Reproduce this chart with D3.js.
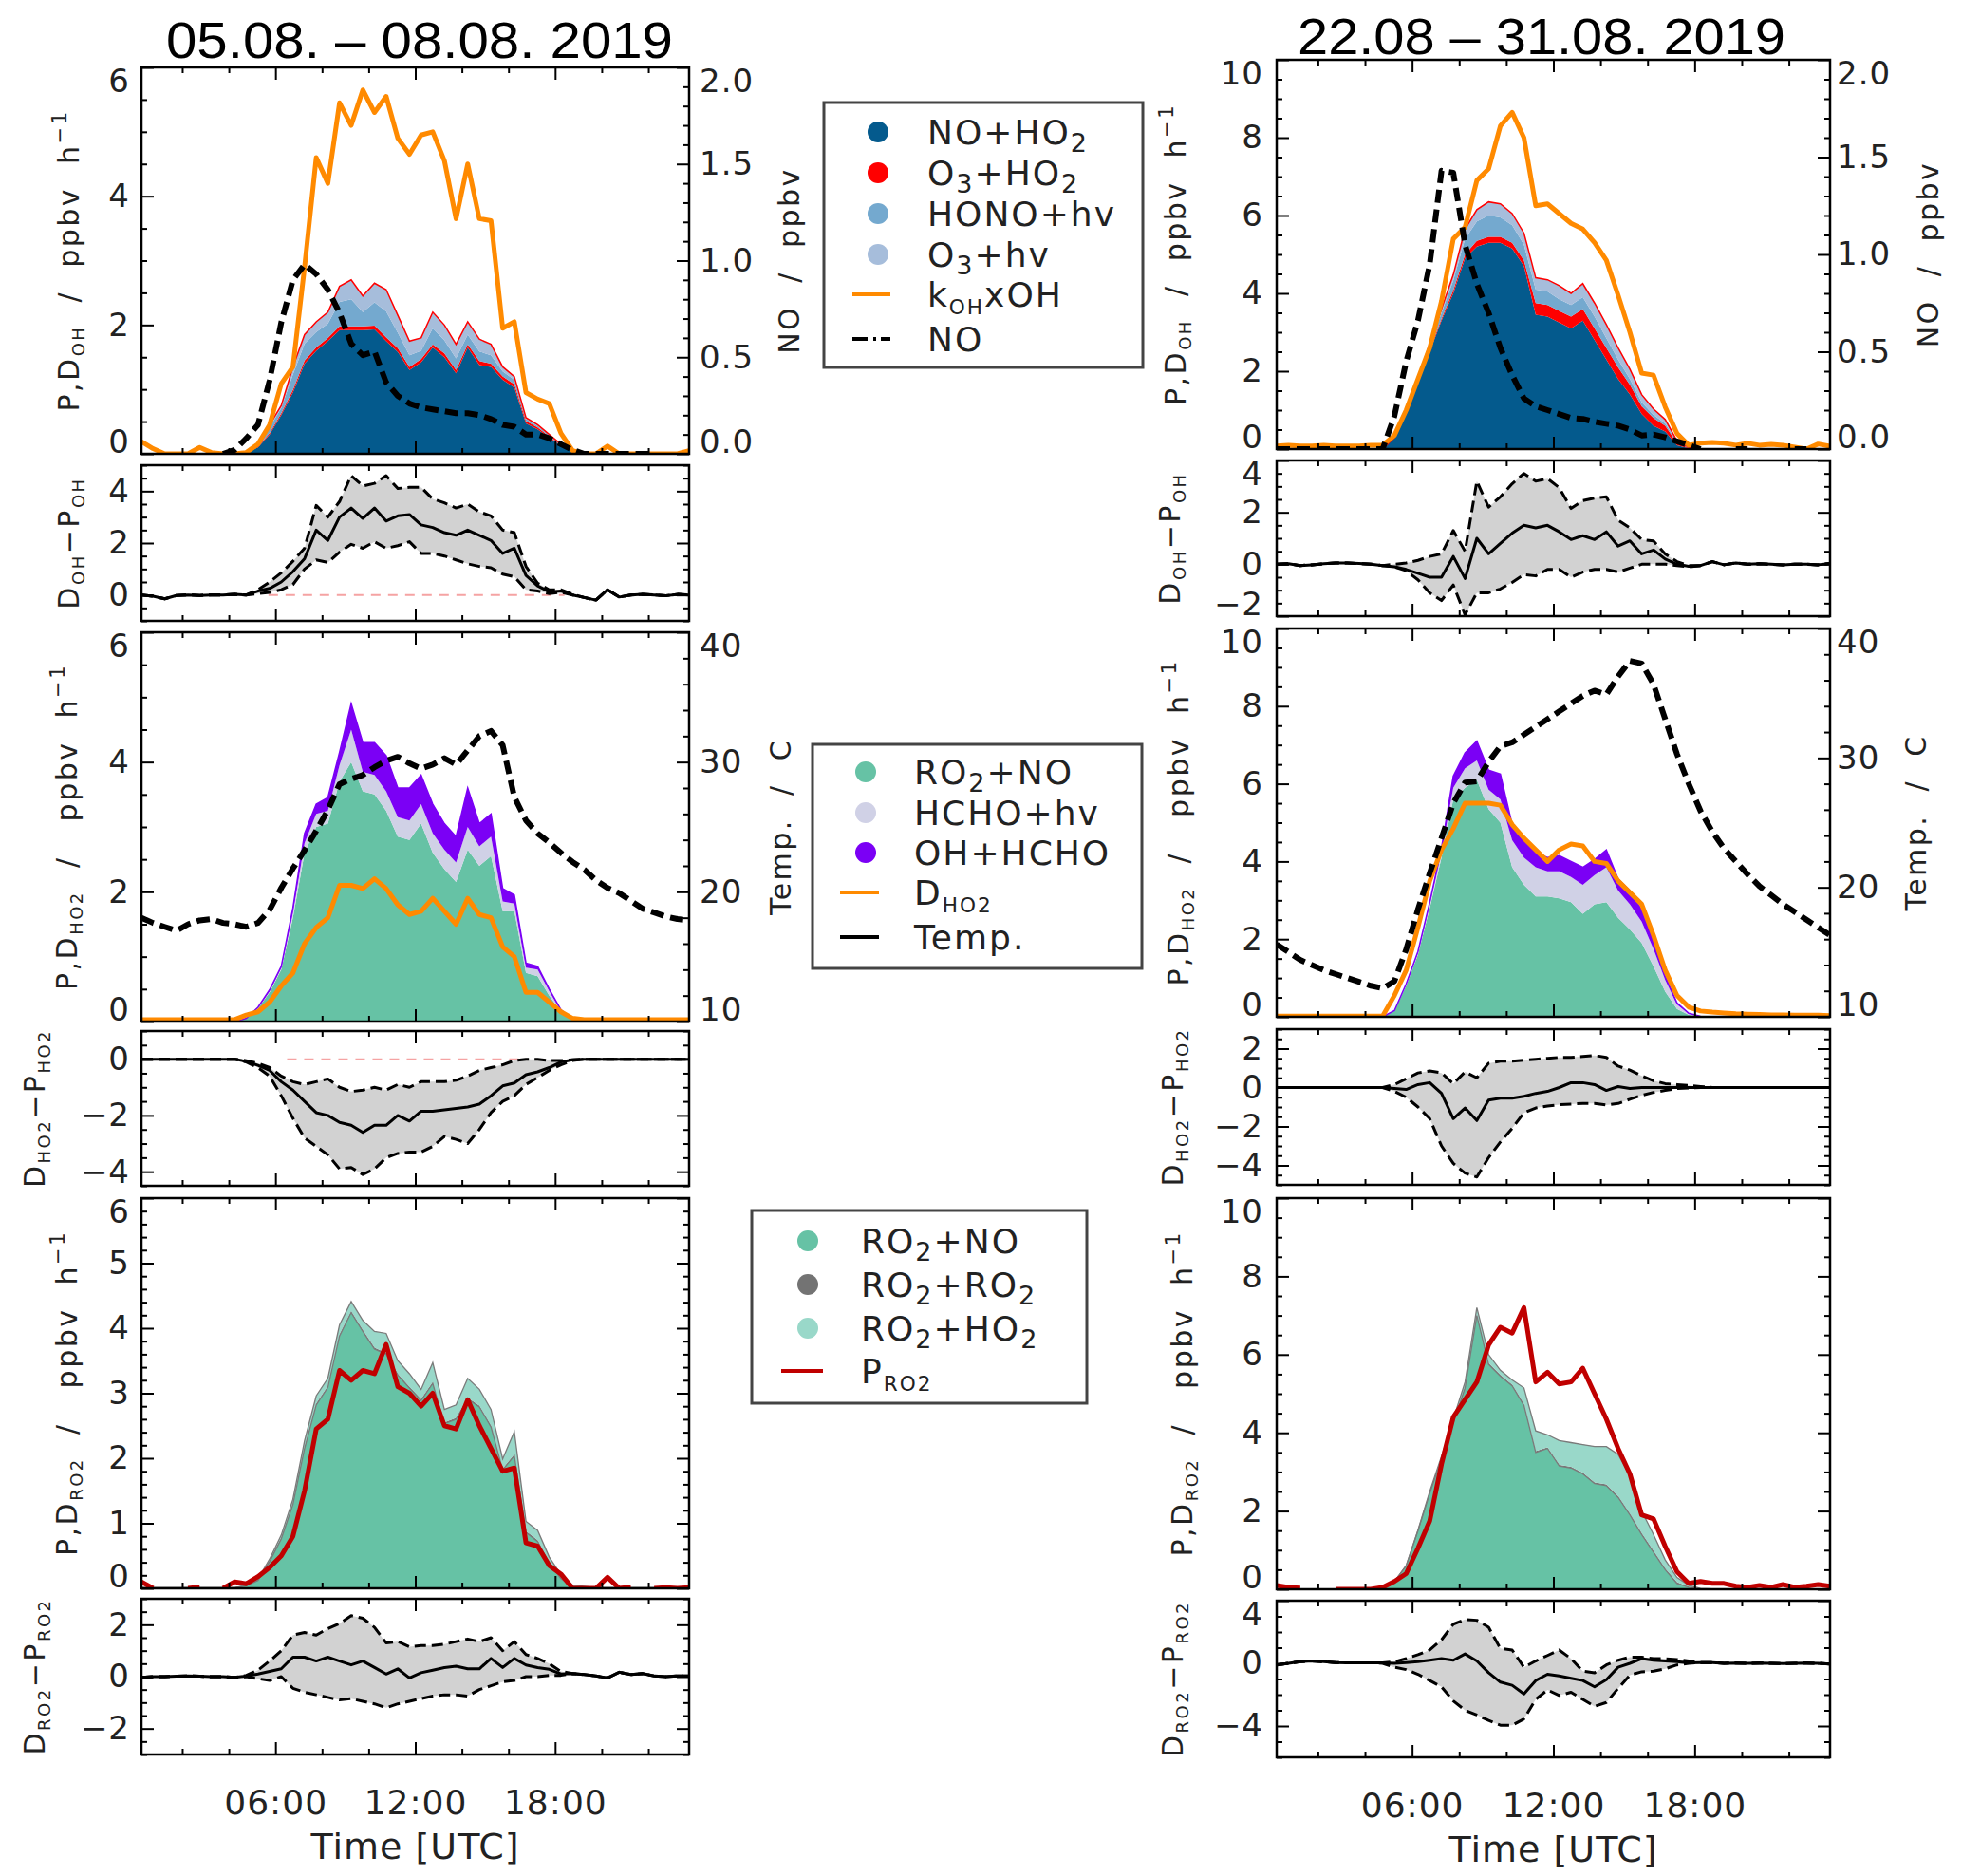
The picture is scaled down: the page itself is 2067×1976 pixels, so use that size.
<!DOCTYPE html>
<html>
<head>
<meta charset="utf-8">
<script src="https://cdn.jsdelivr.net/npm/d3@7"></script>
<style>
body { margin: 0; background: #fff; }
text { font-family: 'DejaVu Sans', sans-serif; fill: #222; }
</style>
</head>
<body>
<svg id="fig" width="2067" height="1976"></svg>
<script>
// half-hour bins, bin centres (UTC hours)
var hours = [0.25,0.75,1.25,1.75,2.25,2.75,3.25,3.75, 4.25,4.75,5.25,5.75,6.25,6.75,7.25,7.75,
  8.25,8.75,9.25,9.75,10.25,10.75,11.25,11.75, 12.25,12.75,13.25,13.75,14.25,14.75,15.25,15.75,
  16.25,16.75,17.25,17.75,18.25,18.75,19.25,19.75, 20.25,20.75,21.25,21.75,22.25,22.75,23.25,23.75];

var titles = ["05.08. \u2013 08.08. 2019", "22.08 \u2013 31.08. 2019"];
var xTickLabels = ["06:00", "12:00", "18:00"];

/****** 05.08. - 08.08. : OH budget ******/
var L_noHO2 = [0,0,0,0,0,0,0,0, 0,0.02,0.10,0.30,0.60,0.95,1.40,1.60, 1.75,1.92,1.92,1.92,1.93,1.75,1.58,1.30, 1.42,1.65,1.50,1.25,1.65,1.38,1.35,1.15, 1.03,0.47,0.38,0.25,0.12,0.04,0.01,0, 0,0,0,0,0,0,0,0];
var L_o3HO2 = [0,0,0,0,0,0,0,0, 0,0,0.01,0.02,0.03,0.04,0.05,0.05, 0.05,0.06,0.06,0.06,0.06,0.06,0.06,0.05, 0.05,0.05,0.06,0.05,0.05,0.06,0.05,0.05, 0.05,0.04,0.03,0.02,0.01,0,0,0, 0,0,0,0,0,0,0,0];
var L_hono = [0,0,0,0,0,0,0,0, 0,0.01,0.01,0.09,0.08,0.24,0.26,0.24, 0.22,0.38,0.42,0.22,0.36,0.40,0.24,0.18, 0.13,0.25,0.20,0.18,0.15,0.15,0.13,0.08, 0.07,0.03,0.02,0.02,0.01,0.01,0,0, 0,0,0,0,0,0,0,0];
var L_o3hv = [0,0,0,0,0,0,0,0, 0,0,0,0.04,0.04,0.12,0.14,0.16, 0.18,0.24,0.30,0.25,0.30,0.34,0.27,0.22, 0.20,0.25,0.24,0.22,0.20,0.19,0.17,0.07, 0.05,0.02,0.02,0.01,0.01,0,0,0, 0,0,0,0,0,0,0,0];
var L_kOH = [0.19,0.08,0,0,0,0.1,0.02,0, 0,0.02,0.15,0.45,1.09,1.35,2.9,4.6, 4.2,5.45,5.1,5.65,5.3,5.55,4.9,4.65, 4.95,5.0,4.55,3.65,4.5,3.65,3.62,1.95, 2.05,0.95,0.85,0.78,0.32,0.05,0,0, 0.12,0,0,0,0,0,0,0.05];
var L_NO = [null,null,null,null,null,null,null,0, 0.02,0.08,0.15,0.38,0.68,0.90,0.98,0.93, 0.85,0.73,0.57,0.51,0.53,0.37,0.30,0.26, 0.24,0.23,0.22,0.21,0.21,0.20,0.18,0.15, 0.14,0.10,0.10,0.08,0.05,0.02,0,0, 0,0,0,0,0,null,null,null];
var L_dOH = [0,-0.05,-0.15,-0.02,0,-0.02,0,0, 0.02,0,0.15,0.25,0.5,0.9,1.4,2.5, 2.1,3.0,3.35,2.95,3.35,2.85,3.05,3.1, 2.7,2.6,2.4,2.3,2.5,2.3,2.1,1.6, 1.8,0.75,0.35,0.12,0.15,0,-0.1,-0.2, 0.2,-0.08,0,0.02,0,-0.03,0.02,0];
var L_dOHhi = [0,-0.05,-0.15,-0.02,0,-0.02,0,0, 0.02,0,0.2,0.5,0.85,1.3,1.8,3.45, 3.0,3.6,4.6,4.2,4.3,4.6,4.1,4.15, 4.15,3.7,3.55,3.35,3.5,3.2,3.05,2.5, 2.4,1.1,0.45,0.2,0.2,0.03,-0.1,-0.2, 0.2,-0.08,0,0.02,0,-0.03,0.02,0];
var L_dOHlo = [0,-0.05,-0.15,-0.02,0,-0.02,0,0, 0.02,0,0.05,0.1,0.2,0.4,1.0,1.35, 1.25,1.65,1.95,1.8,2.05,1.8,1.9,2.05, 1.6,1.6,1.5,1.35,1.2,1.1,1.05,0.8, 0.7,0.2,0.15,0.05,0.1,0,-0.1,-0.2, 0.2,-0.08,0,0.02,0,-0.03,0.02,0];

/****** 05.08. - 08.08. : HO2 budget ******/
var L_hRO2NO = [0,0,0,0,0,0,0,0, 0,0.05,0.2,0.45,0.8,1.6,2.6,3.0, 3.05,3.7,4.0,3.55,3.5,3.25,2.85,2.8, 3.05,2.6,2.35,2.15,2.65,2.4,2.55,1.7, 1.7,0.75,0.7,0.4,0.15,0.03,0,0, 0,0,0,0,0,0,0,0];
var L_hHCHOhv = [0,0,0,0,0,0,0,0, 0,0,0.01,0.02,0.03,0.08,0.15,0.2, 0.2,0.25,0.5,0.3,0.3,0.3,0.3,0.3, 0.3,0.3,0.3,0.3,0.35,0.3,0.3,0.15, 0.12,0.08,0.1,0.07,0.02,0.01,0,0, 0,0,0,0,0,0,0,0];
var L_hOHHCHO = [0,0,0,0,0,0,0,0, 0,0,0.01,0.02,0.02,0.07,0.15,0.15, 0.2,0.2,0.4,0.45,0.5,0.55,0.45,0.5, 0.45,0.45,0.4,0.4,0.6,0.35,0.35,0.2, 0.13,0.07,0.05,0.03,0.01,0,0,0, 0,0,0,0,0,0,0,0];
var L_DHO2 = [0.03,0.03,0.03,0.03,0.03,0.03,0.03,0.03, 0.03,0.1,0.15,0.3,0.55,0.75,1.2,1.45, 1.6,2.1,2.1,2.05,2.2,2.05,1.8,1.65, 1.7,1.9,1.7,1.5,1.9,1.65,1.6,1.15, 1.0,0.45,0.45,0.3,0.15,0.05,0.03,0.03, 0.03,0.03,0.03,0.03,0.03,0.03,0.03,0.03];
var L_temp = [18.0,17.6,17.3,17.0,17.5,17.8,17.9,17.6, 17.5,17.3,17.6,18.6,20.3,21.8,23.2,24.7, 26.3,28.3,28.7,29.0,29.6,30.1,30.4,29.9, 29.5,29.8,30.3,29.8,30.9,32.0,32.4,31.3, 27.3,25.5,24.5,23.8,23.0,22.3,21.7,20.9, 20.3,19.9,19.3,18.7,18.4,18.1,17.9,17.8];
var L_dHO2 = [0,0,0,0,0,0,0,0, 0,-0.08,-0.22,-0.4,-0.8,-1.1,-1.5,-1.9, -2.0,-2.25,-2.35,-2.6,-2.35,-2.35,-2.0,-2.2, -1.85,-1.85,-1.8,-1.75,-1.7,-1.6,-1.3,-0.95, -0.85,-0.55,-0.45,-0.3,-0.1,-0.02,0,0, 0,0,0,0,0,0,0,0];
var L_dHO2hi = [0,0,0,0,0,0,0,0, 0,-0.05,-0.15,-0.3,-0.6,-0.8,-0.9,-0.8, -0.7,-1.0,-1.15,-1.1,-1.0,-1.1,-0.9,-1.0, -0.8,-0.8,-0.8,-0.75,-0.6,-0.4,-0.3,-0.2, -0.05,0,0,-0.05,-0.05,-0.02,0,0, 0,0,0,0,0,0,0,0];
var L_dHO2lo = [0,0,0,0,0,0,0,0, 0,-0.1,-0.3,-0.6,-1.3,-2.1,-2.8,-3.1, -3.4,-3.9,-3.85,-4.1,-3.9,-3.5,-3.35,-3.3, -3.3,-3.1,-2.75,-2.85,-3.0,-2.5,-1.9,-1.5, -1.3,-0.9,-0.65,-0.4,-0.2,-0.05,0,0, 0,0,0,0,0,0,0,0];

/****** 05.08. - 08.08. : RO2 budget ******/
var L_rRO2NO = [0.01,0.01,0.01,0.01,0.01,0.01,0.01,0.01, 0.01,0.04,0.12,0.41,0.76,1.29,2.15,2.82, 3.09,3.88,4.24,3.95,3.68,3.6,3.28,3.08, 2.89,3.15,2.53,2.6,2.91,2.79,2.48,1.82, 2.04,0.86,0.72,0.39,0.15,0.02,0.02,0.01, 0.01,0.01,0.01,0.01,0.01,0.01,0.01,0.01];
var L_rRO2RO2 = [0,0,0,0,0,0,0,0, 0,0.01,0.01,0.02,0.02,0.02,0.02,0.02, 0.02,0.02,0.02,0.02,0.02,0.02,0.02,0.02, 0.02,0.02,0.02,0.02,0.02,0.02,0.02,0.02, 0.02,0.02,0.02,0.01,0.01,0.01,0.01,0, 0,0,0,0,0,0,0,0];
var L_rRO2HO2 = [0,0,0,0,0,0,0,0, 0,0,0.01,0.02,0.04,0.06,0.1,0.12, 0.12,0.15,0.15,0.15,0.25,0.3,0.2,0.2, 0.15,0.3,0.2,0.2,0.3,0.25,0.25,0.15, 0.35,0.15,0.15,0.08,0.05,0.02,0,0, 0,0,0,0,0,0,0,0];
var L_PRO2 = [0.1,0,null,null,0,0.02,null,0, 0.1,0.07,0.18,0.32,0.5,0.8,1.5,2.45, 2.6,3.35,3.2,3.35,3.3,3.75,3.1,3.0, 2.8,3.0,2.5,2.45,2.9,2.5,2.15,1.8, 1.85,0.7,0.65,0.35,0.22,0,0,0, 0.17,0,0.02,null,0,0.01,0,0.01];
var L_dRO2 = [-0.03,0,0,0.02,0.03,0.02,0,0, -0.03,0.02,0.1,0.2,0.3,0.75,0.75,0.6, 0.75,0.6,0.45,0.6,0.35,0.1,0.3,-0.05, 0.15,0.25,0.35,0.4,0.3,0.3,0.7,0.35, 0.7,0.45,0.35,0.28,0.1,0.12,0.08,0.03, -0.05,0.17,0.08,0.12,0.03,0,0.03,0.03];
var L_dRO2hi = [-0.03,0,0,0.02,0.03,0.02,0,0, -0.03,0.05,0.25,0.6,1.0,1.6,1.7,1.6, 1.85,2.05,2.35,2.25,1.9,1.3,1.35,1.15, 1.2,1.2,1.25,1.35,1.45,1.35,1.5,1.0, 1.35,0.85,0.7,0.5,0.2,0.12,0.08,0.03, -0.05,0.17,0.08,0.12,0.03,0,0.03,0.03];
var L_dRO2lo = [-0.03,0,0,0.02,0.03,0.02,0,0, -0.03,0,-0.08,-0.15,0,-0.45,-0.6,-0.7, -0.8,-0.9,-0.85,-0.95,-1.05,-1.2,-1.05,-0.95, -0.85,-0.75,-0.7,-0.7,-0.75,-0.5,-0.35,-0.2, -0.15,0,0,0.05,0.05,0.12,0.08,0.03, -0.05,0.17,0.08,0.12,0.03,0,0.03,0.03];

/****** 22.08 - 31.08. : OH budget ******/
var R_noHO2 = [0,0,0,0,0,0,0,0, 0,0,0.3,0.9,1.7,2.5,3.3,4.0, 4.9,5.2,5.3,5.3,5.15,4.7,3.45,3.4, 3.25,3.1,3.3,2.8,2.3,1.8,1.4,0.9, 0.6,0.45,0.1,0.02,0,0,0,0, 0,0,0,0,0,0,0,0];
var R_o3HO2 = [0,0,0,0,0,0,0,0, 0,0,0,0.02,0.03,0.05,0.05,0.08, 0.1,0.15,0.15,0.15,0.15,0.15,0.3,0.3, 0.3,0.3,0.3,0.3,0.3,0.3,0.25,0.2, 0.2,0.15,0.05,0.01,0,0,0,0, 0,0,0,0,0,0,0,0];
var R_hono = [0,0,0,0,0,0,0,0, 0,0,0,0.05,0.05,0.1,0.15,0.25, 0.4,0.5,0.55,0.5,0.45,0.4,0.35,0.35, 0.3,0.3,0.3,0.3,0.25,0.2,0.15,0.1, 0.08,0.06,0.03,0.01,0,0,0,0, 0,0,0,0,0,0,0,0];
var R_o3hv = [0,0,0,0,0,0,0,0, 0,0,0,0.02,0.04,0.06,0.1,0.15, 0.25,0.3,0.35,0.35,0.3,0.3,0.3,0.3, 0.35,0.3,0.35,0.35,0.35,0.3,0.25,0.2, 0.15,0.1,0.03,0.01,0,0,0,0, 0,0,0,0,0,0,0,0];
var R_kOH = [0.08,0.1,0.08,0.08,0.1,0.08,0.08,0.08, 0.1,0.1,0.35,1.0,1.8,2.6,3.8,5.4, 5.7,6.9,7.2,8.3,8.65,8.0,6.25,6.3, 6.05,5.8,5.65,5.3,4.85,3.95,3.0,1.95, 1.9,1.08,0.4,0.1,0.15,0.17,0.15,0.1, 0.15,0.1,0.12,0.1,0.05,0,0.13,0.07];
var R_NO = [0,0,0,0,0,0,0,0, 0,0,0.17,0.45,0.66,0.95,1.43,1.42, 1.05,0.85,0.70,0.52,0.38,0.26,0.22,0.20, 0.18,0.16,0.155,0.14,0.13,0.12,0.10,0.07, 0.075,0.06,0.04,0.02,0,null,null,0, 0,null,null,null,0,0,null,null];
var R_dOH = [0,0.02,-0.05,-0.02,0.02,0.05,0.05,0.03, 0,-0.05,-0.1,-0.2,-0.35,-0.5,-0.5,0.3, -0.55,1.0,0.4,0.8,1.2,1.5,1.4,1.5, 1.25,0.95,1.1,0.95,1.25,0.7,0.9,0.4, 0.55,0.2,0,-0.08,-0.05,0.1,-0.02,0.05, 0,0.02,0,-0.02,0,0,-0.02,0.03];
var R_dOHhi = [0,0.02,-0.05,-0.02,0.02,0.05,0.05,0.03, 0,-0.05,0,0.05,0.15,0.3,0.4,1.3, 0.5,3.2,2.2,2.6,3.1,3.5,3.2,3.3, 2.95,2.15,2.45,2.55,2.6,1.7,1.4,0.95, 0.9,0.4,0.1,-0.05,-0.05,0.1,-0.02,0.05, 0,0.02,0,-0.02,0,0,-0.02,0.03];
var R_dOHlo = [0,0.02,-0.05,-0.02,0.02,0.05,0.05,0.03, 0,-0.05,-0.1,-0.25,-0.6,-1.1,-1.4,-0.8, -1.95,-1.1,-1.1,-0.95,-0.7,-0.4,-0.45,-0.2, -0.2,-0.5,-0.3,-0.2,-0.2,-0.3,-0.15,0, 0,0,-0.05,-0.1,-0.05,0.1,-0.02,0.05, 0,0.02,0,-0.02,0,0,-0.02,0.03];

/****** 22.08 - 31.08. : HO2 budget ******/
var R_hRO2NO = [0,0,0,0,0,0,0,0, 0,0,0.15,0.8,1.6,2.8,4.1,5.6, 5.9,6.1,5.35,5.0,3.85,3.4,3.1,3.1, 3.05,2.95,2.65,2.9,2.95,2.55,2.25,1.9, 1.3,0.65,0.2,0.05,0.01,0,0,0, 0,0,0,0,0,0,0,0];
var R_hHCHOhv = [0,0,0,0,0,0,0,0, 0,0,0.01,0.03,0.05,0.1,0.15,0.3, 0.5,0.5,0.5,0.6,0.7,0.7,0.75,0.65, 0.7,0.65,0.75,0.75,0.9,0.7,0.65,0.55, 0.45,0.3,0.12,0.03,0,0,0,0, 0,0,0,0,0,0,0,0];
var R_hOHHCHO = [0,0,0,0,0,0,0,0, 0,0,0,0.02,0.03,0.05,0.1,0.3, 0.4,0.5,0.5,0.65,0.4,0.45,0.4,0.35, 0.4,0.4,0.45,0.4,0.45,0.3,0.35,0.3, 0.2,0.1,0.04,0.01,0,0,0,0, 0,0,0,0,0,0,0,0];
var R_DHO2 = [0.02,0.02,0.02,0.02,0.02,0.02,0.02,0.02, 0.02,0.02,0.55,1.2,2.3,3.5,4.3,4.85, 5.5,5.5,5.5,5.45,4.95,4.6,4.3,4.0, 4.3,4.45,4.4,4.0,3.95,3.5,3.2,2.9, 2.1,1.2,0.55,0.25,0.15,0.12,0.1,0.08, 0.07,0.06,0.05,0.05,0.04,0.04,0.04,0.03];
var R_temp = [15.6,15.0,14.4,14.0,13.6,13.3,13.0,12.7, 12.4,12.2,12.75,15.2,18.3,21.1,23.8,26.5, 28.1,28.2,29.7,30.9,31.2,31.8,32.4,33.0, 33.6,34.2,34.8,35.2,34.9,36.3,37.5,37.3, 35.7,33.0,30.3,28.0,25.9,24.3,23.0,22.0, 21.0,20.1,19.4,18.7,18.1,17.5,16.9,16.3];
var R_dHO2 = [0,0,0,0,0,0,0,0, 0,0,-0.05,-0.1,0.15,0.25,-0.3,-1.6, -1.05,-1.7,-0.65,-0.55,-0.55,-0.45,-0.3,-0.2, 0,0.25,0.25,0.15,-0.15,0.05,-0.05,0, 0,0,0,0,0,0,0,0, 0,0,0,0,0,0,0,0];
var R_dHO2hi = [0,0,0,0,0,0,0,0, 0,0,0.15,0.45,0.75,0.85,0.75,0.2, 0.8,0.5,1.25,1.35,1.35,1.4,1.45,1.5, 1.55,1.55,1.6,1.65,1.55,1.1,0.9,0.6, 0.35,0.2,0.15,0.1,0.05,0,0,0, 0,0,0,0,0,0,0,0];
var R_dHO2lo = [0,0,0,0,0,0,0,0, 0,0,-0.2,-0.5,-1.0,-1.6,-3.0,-3.9, -4.4,-4.6,-3.6,-2.8,-2.1,-1.3,-1.05,-0.95, -0.88,-0.85,-0.82,-0.82,-0.9,-0.82,-0.6,-0.4, -0.25,-0.15,-0.05,-0.02,0,0,0,0, 0,0,0,0,0,0,0,0];

/****** 22.08 - 31.08. : RO2 budget ******/
var R_rRO2NO = [0.01,0.01,0.01,0.01,0.01,0.01,0.01,0.01, 0.01,0.02,0.2,0.6,1.5,2.45,3.35,4.25, 5.15,7.0,5.75,5.45,5.2,4.7,3.5,3.6, 3.15,3.1,2.95,2.7,2.65,2.35,1.9,1.4, 0.95,0.5,0.15,0.05,0.01,0.01,0.01,0.01, 0.01,0.01,0.01,0.01,0.01,0.01,0.01,0.01];
var R_rRO2RO2 = [0,0,0,0,0,0,0,0, 0,0,0,0.01,0.01,0.02,0.02,0.03, 0.03,0.03,0.03,0.03,0.03,0.03,0.03,0.03, 0.03,0.03,0.03,0.03,0.03,0.03,0.03,0.03, 0.03,0.03,0.03,0.01,0,0,0,0, 0,0,0,0,0,0,0,0];
var R_rRO2HO2 = [0,0,0,0,0,0,0,0, 0,0,0,0,0,0.03,0.03,0.07, 0.12,0.17,0.22,0.12,0.12,0.42,0.52,0.32, 0.62,0.62,0.72,0.92,0.97,1.07,0.97,0.57, 0.42,0.22,0.12,0.04,0.01,0,0,0, 0,0,0,0,0,0,0,0];
var R_PRO2 = [0.1,0.05,0.03,null,null,0,0,0, 0,0.05,0.2,0.4,1.05,1.75,3.2,4.4, 4.85,5.3,6.25,6.7,6.55,7.2,5.3,5.55, 5.25,5.3,5.65,5.0,4.35,3.6,2.95,1.9, 1.8,1.1,0.45,0.15,0.2,0.15,0.15,0.08, 0.05,0.1,0.05,0.12,0.05,0.08,0.12,0.08];
var R_dRO2 = [-0.1,0,0.1,0.15,0.1,0.05,0.03,0.03, 0.03,0.03,0,0.05,0.1,0.2,0.3,0.2, 0.6,0.15,-0.6,-1.2,-1.4,-1.95,-1.1,-0.7, -0.8,-0.95,-1.1,-1.5,-1.05,-0.25,0,0.3, 0.2,0.15,0.1,0.03,0.05,0.05,0,0.02, 0,0.02,0,-0.02,0,0.02,0,-0.05];
var R_dRO2hi = [-0.1,0,0.1,0.15,0.1,0.05,0.03,0.03, 0.03,0.03,0.1,0.3,0.55,0.85,1.5,2.5, 2.8,2.75,2.3,0.95,0.85,-0.25,0.15,0.5, 0.85,0.3,-0.5,-0.6,-0.1,0.2,0.4,0.4, 0.3,0.3,0.25,0.15,0.05,0.05,0,0.02, 0,0.02,0,-0.02,0,0.02,0,-0.05];
var R_dRO2lo = [-0.1,0,0.1,0.15,0.1,0.05,0.03,0.03, 0.03,0,-0.25,-0.4,-0.7,-1.1,-1.5,-2.4, -3.0,-3.3,-3.65,-3.95,-3.95,-3.55,-2.3,-1.7, -2.05,-1.85,-2.3,-2.75,-2.5,-1.6,-0.75,-0.54, -0.5,-0.35,-0.1,0,0.05,0.05,0,0.02, 0,0.02,0,-0.02,0,0.02,0,-0.05];

// legend entries: [text, style] parts ; style '' | 'sub' | 'ssub' | 'sup'
var legOH = [
  {dot: "#045a8d", parts: [["NO+HO",""],["2","sub"]]},
  {dot: "#ff0000", parts: [["O",""],["3","sub"],["+HO",""],["2","sub"]]},
  {dot: "#74a9cf", parts: [["HONO+hv",""]]},
  {dot: "#a6bddb", parts: [["O",""],["3","sub"],["+hv",""]]},
  {line: "#ff8a00", parts: [["k",""],["OH","ssub"],["xOH",""]]},
  {line: "#000", dash: "16,6,3,5", parts: [["NO",""]]}
];
var legHO2 = [
  {dot: "#66c2a5", parts: [["RO",""],["2","sub"],["+NO",""]]},
  {dot: "#d0d1e6", parts: [["HCHO+hv",""]]},
  {dot: "#7b00f5", parts: [["OH+HCHO",""]]},
  {line: "#ff8a00", parts: [["D",""],["HO2","ssub"]]},
  {line: "#000", parts: [["Temp.",""]]}
];
var legRO2 = [
  {dot: "#66c2a5", parts: [["RO",""],["2","sub"],["+NO",""]]},
  {dot: "#737373", parts: [["RO",""],["2","sub"],["+RO",""],["2","sub"]]},
  {dot: "#99d8c9", parts: [["RO",""],["2","sub"],["+HO",""],["2","sub"]]},
  {line: "#c00000", parts: [["P",""],["RO2","ssub"]]}
];

var svg = d3.select("#fig");
var clipN = 0;
var NB = "\u00a0";

function rich(t, parts, fs) {
  var shift = 0;
  parts.forEach(function(p) {
    var target = 0, size = fs;
    if (p[1] === "sub") { target = fs * 0.22; size = fs * 0.75; }
    if (p[1] === "ssub") { target = fs * 0.22; size = fs * 0.6; }
    if (p[1] === "sup") { target = -fs * 0.42; size = fs * 0.7; }
    t.append("tspan").attr("font-size", size).attr("dy", target - shift).text(p[0].replace(/ /g, NB));
    shift = target;
  });
}

function tickFmt(d) { return d < 0 ? "\u2212" + Math.abs(d) : String(d); }

function minors(dom, step, major) {
  return d3.range(dom[0], dom[1] + step / 2, step)
    .map(function(v) { return +v.toFixed(4); })
    .filter(function(v) { return !major.some(function(m) { return Math.abs(m - v) < 1e-6; }); });
}

function makePanel(xr, yr, dom) {
  var x = d3.scaleLinear().domain([hours[0], hours[hours.length - 1]]).range(xr);
  var y = d3.scaleLinear().domain(dom).range([yr[1], yr[0]]);
  var id = "clip" + (clipN++);
  svg.append("clipPath").attr("id", id).append("rect")
    .attr("x", xr[0]).attr("y", yr[0]).attr("width", xr[1] - xr[0]).attr("height", yr[1] - yr[0]);
  var plot = svg.append("g").attr("clip-path", "url(#" + id + ")");
  return {x: x, y: y, xr: xr, yr: yr, plot: plot};
}

function styleAxis(g, fs) {
  g.attr("font-family", null).attr("font-size", null);
  g.select(".domain").remove();
  g.selectAll(".tick line").attr("stroke", "#000").attr("stroke-width", 2);
  g.selectAll(".tick text").attr("font-size", fs).attr("letter-spacing", 1);
}

function shiftEnds(g, dom) {
  g.selectAll(".tick text").attr("transform", function(d) {
    if (Math.abs(d - dom[1]) < 1e-9) return "translate(0,15)";
    if (Math.abs(d - dom[0]) < 1e-9) return "translate(0,-12)";
    return null;
  });
}

function axes(p, o) {
  var g = svg.append("g");
  var x0 = p.xr[0], x1 = p.xr[1], y0 = p.yr[0], y1 = p.yr[1];
  var dom = p.y.domain();
  var gl = g.append("g").attr("transform", "translate(" + x0 + ",0)")
    .call(d3.axisLeft(p.y).tickValues(o.major).tickSize(-13).tickPadding(o.pad).tickFormat(tickFmt));
  styleAxis(gl, 34); shiftEnds(gl, dom);
  g.append("g").attr("transform", "translate(" + x0 + ",0)")
    .call(d3.axisLeft(p.y).tickValues(minors(dom, o.minor, o.major)).tickSize(-6).tickFormat(""))
    .call(function(s) { styleAxis(s, 34); });
  if (o.y2) {
    var d2 = o.y2.domain();
    var gr = g.append("g").attr("transform", "translate(" + x1 + ",0)")
      .call(d3.axisRight(o.y2).tickValues(o.major2).tickSize(-13).tickPadding(o.pad2).tickFormat(o.fmt2));
    styleAxis(gr, 34); shiftEnds(gr, d2);
    g.append("g").attr("transform", "translate(" + x1 + ",0)")
      .call(d3.axisRight(o.y2).tickValues(minors(d2, o.minor2, o.major2)).tickSize(-6).tickFormat(""))
      .call(function(s) { styleAxis(s, 34); });
  } else {
    g.append("g").attr("transform", "translate(" + x1 + ",0)")
      .call(d3.axisRight(p.y).tickValues(o.major).tickSize(-13).tickFormat(""))
      .call(function(s) { styleAxis(s, 34); });
    g.append("g").attr("transform", "translate(" + x1 + ",0)")
      .call(d3.axisRight(p.y).tickValues(minors(dom, o.minor, o.major)).tickSize(-6).tickFormat(""))
      .call(function(s) { styleAxis(s, 34); });
  }
  var xMajor = [6, 12, 18], xMinor = [2, 4, 8, 10, 14, 16, 20, 22];
  var gb = g.append("g").attr("transform", "translate(0," + y1 + ")")
    .call(d3.axisBottom(p.x).tickValues(xMajor).tickSize(-13).tickPadding(37)
      .tickFormat(function(d, i) { return o.showX ? xTickLabels[i] : ""; }));
  styleAxis(gb, 36);
  g.append("g").attr("transform", "translate(0," + y1 + ")")
    .call(d3.axisBottom(p.x).tickValues(xMinor).tickSize(-6).tickFormat(""))
    .call(function(s) { styleAxis(s, 34); });
  g.append("g").attr("transform", "translate(0," + y0 + ")")
    .call(d3.axisTop(p.x).tickValues(xMajor).tickSize(-13).tickFormat(""))
    .call(function(s) { styleAxis(s, 34); });
  g.append("g").attr("transform", "translate(0," + y0 + ")")
    .call(d3.axisTop(p.x).tickValues(xMinor).tickSize(-6).tickFormat(""))
    .call(function(s) { styleAxis(s, 34); });
  g.append("rect").attr("x", x0).attr("y", y0).attr("width", x1 - x0).attr("height", y1 - y0)
    .attr("fill", "none").attr("stroke", "#000").attr("stroke-width", 2.5);
  if (o.showX) {
    g.append("text").attr("x", (x0 + x1) / 2).attr("y", y1 + 110).attr("text-anchor", "middle")
      .attr("font-size", 38).attr("letter-spacing", 1).text("Time [UTC]");
  }
}

function stack(p, series, colors) {
  var keys = series.map(function(s, k) { return "k" + k; });
  var rows = hours.map(function(t, i) {
    var r = {t: t};
    series.forEach(function(s, k) { r["k" + k] = s[i]; });
    return r;
  });
  var st = d3.stack().keys(keys)(rows);
  var area = d3.area().x(function(d) { return p.x(d.data.t); })
    .y0(function(d) { return p.y(d[0]); }).y1(function(d) { return p.y(d[1]); });
  p.plot.selectAll(null).data(st).join("path").attr("d", area)
    .attr("fill", function(d, i) { return colors[i]; });
  return st;
}

function edge(p, layer, color, w) {
  var ln = d3.line().x(function(d) { return p.x(d.data.t); }).y(function(d) { return p.y(d[1]); });
  p.plot.append("path").attr("d", ln(layer)).attr("fill", "none").attr("stroke", color).attr("stroke-width", w);
}

function line(p, ys, vals, color, w, dash) {
  var ln = d3.line().defined(function(d) { return d[1] != null; })
    .x(function(d) { return p.x(d[0]); }).y(function(d) { return ys(d[1]); });
  p.plot.append("path").attr("d", ln(hours.map(function(t, i) { return [t, vals[i]]; })))
    .attr("fill", "none").attr("stroke", color).attr("stroke-width", w)
    .attr("stroke-dasharray", dash || null).attr("stroke-linejoin", "round");
}

function diffPanel(p, mean, lo, hi, zeroFrom, zeroTo) {
  var ar = d3.area().x(function(d, i) { return p.x(hours[i]); })
    .y0(function(d, i) { return p.y(lo[i]); }).y1(function(d, i) { return p.y(hi[i]); });
  p.plot.append("path").attr("d", ar(hours)).attr("fill", "#d2d2d2");
  if (zeroFrom != null) {
    p.plot.append("line").attr("x1", p.x(zeroFrom)).attr("x2", p.x(zeroTo))
      .attr("y1", p.y(0)).attr("y2", p.y(0)).attr("stroke", "#f5a3a3").attr("stroke-width", 2)
      .attr("stroke-dasharray", "10,8");
  }
  line(p, p.y, lo, "#000", 3, "12,6");
  line(p, p.y, hi, "#000", 3, "12,6");
  line(p, p.y, mean, "#000", 3);
}

function yTitle(xc, yc, parts, fs) {
  var t = svg.append("text").attr("transform", "translate(" + (xc + fs * 0.36) + "," + yc + ") rotate(-90)")
    .attr("text-anchor", "middle").attr("font-size", fs).attr("letter-spacing", 2.5);
  rich(t, parts, fs);
}

function legend(box, items, rowY, symX, lx0, lx1, textX) {
  svg.append("rect").attr("x", box[0]).attr("y", box[1]).attr("width", box[2] - box[0]).attr("height", box[3] - box[1])
    .attr("fill", "#fff").attr("stroke", "#444").attr("stroke-width", 3);
  items.forEach(function(it, i) {
    var y = rowY[i];
    if (it.dot) {
      svg.append("circle").attr("cx", symX).attr("cy", y).attr("r", 11).attr("fill", it.dot);
    } else {
      svg.append("line").attr("x1", lx0).attr("x2", lx1).attr("y1", y).attr("y2", y)
        .attr("stroke", it.line).attr("stroke-width", 4).attr("stroke-dasharray", it.dash || null);
    }
    var t = svg.append("text").attr("x", textX).attr("y", y + 13).attr("font-size", 36).attr("letter-spacing", 2);
    rich(t, it.parts, 36);
  });
}

var C_OH = ["#045a8d", "#ff0000", "#74a9cf", "#a6bddb"];
var C_HO2 = ["#66c2a5", "#d0d1e6", "#7b00f5"];
var C_RO2 = ["#66c2a5", "#737373", "#99d8c9"];

var cols = [
  {xr: [149, 726], rows: [[71,478],[490,654],[666,1076],[1086,1249],[1262,1673],[1684,1848]],
   pad: 12, pad2: 11, titleX: 442, titleY: 61, titleW: 534,
   rdom: [[0,6],[-1,5],[0,6],[-4.5,1],[0,6],[-3,3]],
   maj: [[0,2,4,6],[0,2,4],[0,2,4,6],[-4,-2,0],[0,1,2,3,4,5,6],[-2,0,2]],
   mino: [0.5,0.5,0.5,0.5,0.2,0.5],
   labX: [72,72,70,36,70,36], r2X: [831, 822],
   zero: [[5.7,18.4],[6.5,16.7],[null,null]],
   d: {noHO2:L_noHO2,o3HO2:L_o3HO2,hono:L_hono,o3hv:L_o3hv,kOH:L_kOH,NO:L_NO,
       dOH:L_dOH,dOHlo:L_dOHlo,dOHhi:L_dOHhi,
       hA:L_hRO2NO,hB:L_hHCHOhv,hC:L_hOHHCHO,DHO2:L_DHO2,temp:L_temp,
       dHO2:L_dHO2,dHO2lo:L_dHO2lo,dHO2hi:L_dHO2hi,
       rA:L_rRO2NO,rB:L_rRO2RO2,rC:L_rRO2HO2,PRO2:L_PRO2,
       dRO2:L_dRO2,dRO2lo:L_dRO2lo,dRO2hi:L_dRO2hi}},
  {xr: [1345, 1928], rows: [[63,473],[485,649],[662,1071],[1084,1248],[1262,1674],[1686,1851]],
   pad: 14, pad2: 7, titleX: 1624, titleY: 57, titleW: 514,
   rdom: [[0,10],[-2,4],[0,10],[-5,3],[0,10],[-6,4]],
   maj: [[0,2,4,6,8,10],[-2,0,2,4],[0,2,4,6,8,10],[-4,-2,0,2],[0,2,4,6,8,10],[-4,0,4]],
   mino: [0.5,0.5,0.5,0.5,0.5,1],
   labX: [1238,1232,1241,1235,1245,1235], r2X: [2031, 2018],
   zero: [[null,null],[null,null],[null,null]],
   d: {noHO2:R_noHO2,o3HO2:R_o3HO2,hono:R_hono,o3hv:R_o3hv,kOH:R_kOH,NO:R_NO,
       dOH:R_dOH,dOHlo:R_dOHlo,dOHhi:R_dOHhi,
       hA:R_hRO2NO,hB:R_hHCHOhv,hC:R_hOHHCHO,DHO2:R_DHO2,temp:R_temp,
       dHO2:R_dHO2,dHO2lo:R_dHO2lo,dHO2hi:R_dHO2hi,
       rA:R_rRO2NO,rB:R_rRO2RO2,rC:R_rRO2HO2,PRO2:R_PRO2,
       dRO2:R_dRO2,dRO2lo:R_dRO2lo,dRO2hi:R_dRO2hi}}
];

var yLabels = [
  [["P,D",""],["OH","ssub"],["  /  ppbv  h",""],["\u22121","sup"]],
  [["D",""],["OH","ssub"],["\u2212P",""],["OH","ssub"]],
  [["P,D",""],["HO2","ssub"],["  /   ppbv  h",""],["\u22121","sup"]],
  [["D",""],["HO2","ssub"],["\u2212P",""],["HO2","ssub"]],
  [["P,D",""],["RO2","ssub"],["  /   ppbv  h",""],["\u22121","sup"]],
  [["D",""],["RO2","ssub"],["\u2212P",""],["RO2","ssub"]]
];

var panelsAll = [];
cols.forEach(function(c) {
  var d = c.d, P = [];
  for (var r = 0; r < 6; r++) P.push(makePanel(c.xr, c.rows[r], c.rdom[r]));

  // OH
  var yNO = d3.scaleLinear().domain([0, 2]).range([c.rows[0][1], c.rows[0][0]]);
  var st = stack(P[0], [d.noHO2, d.o3HO2, d.hono, d.o3hv], C_OH);
  edge(P[0], st[3], "#ff0000", 1.5);
  line(P[0], P[0].y, d.kOH, "#ff8a00", 5);
  line(P[0], yNO, d.NO, "#000", 6, "14,7");
  diffPanel(P[1], d.dOH, d.dOHlo, d.dOHhi, c.zero[0][0], c.zero[0][1]);

  // HO2
  var yT = d3.scaleLinear().domain([10, 40]).range([c.rows[2][1], c.rows[2][0]]);
  st = stack(P[2], [d.hA, d.hB, d.hC], C_HO2);
  edge(P[2], st[2], "#7b00f5", 1.5);
  line(P[2], P[2].y, d.DHO2, "#ff8a00", 5);
  line(P[2], yT, d.temp, "#000", 6, "14,7");
  diffPanel(P[3], d.dHO2, d.dHO2lo, d.dHO2hi, c.zero[1][0], c.zero[1][1]);

  // RO2
  st = stack(P[4], [d.rA, d.rB, d.rC], C_RO2);
  edge(P[4], st[0], "#7a7a7a", 1.3);
  edge(P[4], st[2], "#7a7a7a", 1.3);
  line(P[4], P[4].y, d.PRO2, "#c00000", 5);
  diffPanel(P[5], d.dRO2, d.dRO2lo, d.dRO2hi, null, null);

  panelsAll.push({c: c, P: P, yNO: yNO, yT: yT});
});

panelsAll.forEach(function(o) {
  var c = o.c, P = o.P;
  for (var r = 0; r < 6; r++) {
    var opt = {major: c.maj[r], minor: c.mino[r], pad: c.pad, showX: r === 5};
    if (r === 0) { opt.y2 = o.yNO; opt.major2 = [0, 0.5, 1, 1.5, 2]; opt.minor2 = 0.1; opt.fmt2 = d3.format(".1f"); opt.pad2 = c.pad2; }
    if (r === 2) { opt.y2 = o.yT; opt.major2 = [10, 20, 30, 40]; opt.minor2 = 2; opt.fmt2 = function(v) { return String(v); }; opt.pad2 = c.pad2; }
    axes(P[r], opt);
    yTitle(c.labX[r], (c.rows[r][0] + c.rows[r][1]) / 2, yLabels[r], 30);
  }
  yTitle(c.r2X[0], (c.rows[0][0] + c.rows[0][1]) / 2, [["NO  /  ppbv",""]], 30);
  yTitle(c.r2X[1], (c.rows[2][0] + c.rows[2][1]) / 2, [["Temp.  /  C",""]], 30);
});

// column titles
cols.forEach(function(c, i) {
  svg.append("text").attr("x", c.titleX).attr("y", c.titleY).attr("text-anchor", "middle")
    .attr("font-size", 54).attr("textLength", c.titleW).attr("lengthAdjust", "spacingAndGlyphs")
    .style("font-family", "'Liberation Sans Narrow','Liberation Sans',sans-serif").style("fill", "#000")
    .text(titles[i]);
});

legend([868, 108, 1204, 387], legOH, [139, 182, 225, 268, 310, 357], 925, 898, 938, 977);
legend([856, 784, 1203, 1020], legHO2, [813, 856, 898, 940, 987], 912, 885, 926, 963);
legend([792, 1275, 1145, 1478], legRO2, [1307, 1353, 1399, 1444], 851, 823, 867, 907);
</script>
</body>
</html>
